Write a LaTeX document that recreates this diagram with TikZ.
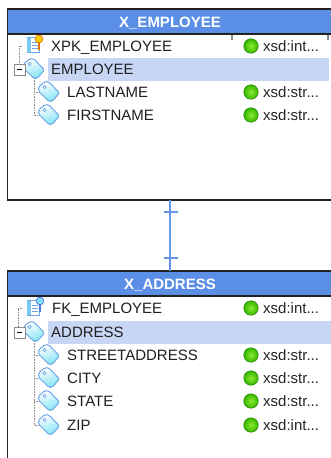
\documentclass[tikz,border=0pt]{standalone}
\usepackage{fontspec}
\setmainfont{Liberation Sans}
\definecolor{headblue}{HTML}{5B8FE6}
\definecolor{band}{HTML}{C6D6F4}
\definecolor{linkblue}{HTML}{6496EE}
\definecolor{edgeblack}{HTML}{222222}
\definecolor{tagblue}{HTML}{6FA8E8}
\definecolor{tagfill}{HTML}{7FE2F4}
\definecolor{treegray}{HTML}{8A8A8A}
\definecolor{ballgreen}{HTML}{35B800}
\definecolor{balllight}{HTML}{8CEB30}
\tikzset{
  x=1pt,y=-1pt,
  tablebox/.style={draw=edgeblack,line width=1.4pt,fill=white,minimum width=325pt,inner sep=0pt,outer sep=0pt},
  headbox/.style={draw=edgeblack,line width=1.4pt,fill=headblue,minimum width=325pt,minimum height=25pt,inner sep=0pt,outer sep=0pt,text=white,text height=12.5pt,text depth=0.7pt,font=\fontsize{15}{15}\selectfont},
  rowtext/.style={anchor=west,inner sep=0pt,text=black!88,text height=10pt,text depth=0pt,font=\fontsize{15}{15}\selectfont},
  typetext/.style={anchor=west,inner sep=0pt,text=black!85,text height=10pt,text depth=0pt,font=\fontsize{15}{15}\selectfont},
  tree/.style={draw=treegray,line width=0.6pt,densely dotted},
  link/.style={draw=linkblue,line width=1.8pt},
  tagicon/.pic={
    \path[draw=tagblue,line width=1pt,rounded corners=1.8pt,line join=round,left color=white,right color=tagfill,shading angle=20]
      (-10.5,-5) -- (-4,-10.5) -- (0,-10) -- (10.5,1) -- (3,9.5) -- (0,9.5) -- (-10.5,-1) -- cycle;
    \path[draw=tagblue,fill=white,line width=0.7pt] (-4.5,-5) circle (1.6);
  },
  docicon/.pic={
    \path[draw=tagblue,fill=white,line width=1pt] (-6.5,-7.5) rectangle (6,7);
    \path[fill=tagfill!60!tagblue] (-6.5,-7.5) rectangle (-2.5,7);
    \foreach \yy in {-3,0,3}{\path[draw=tagblue,line width=0.8pt] (-1.5,\yy) -- (4,\yy);}
  },
  ball/.pic={
    \path[draw=ballgreen!75!black,line width=0.6pt,inner color=balllight,outer color=ballgreen] (0,0) circle (7.2);
  }
}
\begin{document}
\begin{tikzpicture}
\path[use as bounding box,fill=white] (0,0) rectangle (331,458);
\clip (0,0) rectangle (331,458);

% first table
\node[tablebox,minimum height=191pt,anchor=north] (t1) at (170,9) {};
\node[headbox,anchor=north] (h1) at (170,9) {\textbf{X\_EMPLOYEE}};
% second table
\node[tablebox,minimum height=200pt,anchor=north] (t2) at (170,271) {};
\node[headbox,anchor=north] (h2) at (170,271) {\textbf{X\_ADDRESS}};

% relation
\draw[link] (t1.south) -- (h2.north);
\draw[link,line width=1.2pt] (163.5,212) -- (177.5,212);
\draw[link,line width=1.2pt] (163.5,258) -- (177.5,258);

% column sizer ticks
\draw[treegray,line width=2pt] (232,35) -- (232,40);
\draw[treegray,line width=2pt] (328,35) -- (328,40);

% highlight bands
\fill[band] (48,58) rectangle (329,81);
\fill[band] (48,321) rectangle (331,344);

% tree lines table 1
\draw[tree] (22,46) -- (19,46) -- (19,64);
\draw[tree] (34,78) -- (34,115) -- (40,115);
\draw[tree] (34,92) -- (40,92);
% tree lines table 2
\draw[tree] (22,308) -- (18,308) -- (18,327);
\draw[tree] (34,341) -- (34,425) -- (40,425);
\foreach \yy in {355,378,401}{\draw[tree] (34,\yy) -- (40,\yy);}

% table 1 rows
\pic at (33.5,45) {docicon};
\draw[orange!90!black,line width=1.8pt] (39,41) -- (39,50);
\draw[orange!90!black,fill=yellow!70!orange,line width=0.8pt] (39,39) circle (3.8);
\node[rowtext] (r1) at (51,46) {XPK\_EMPLOYEE};
\pic at (34,69) {tagicon};
\draw[treegray,fill=white,line width=0.8pt] (14,64) rectangle (25,75);
\draw[black,line width=0.9pt] (17,69.5) -- (22,69.5);
\node[rowtext] (r2) at (51,69) {EMPLOYEE};
\pic at (49,92) {tagicon};
\node[rowtext] (r3) at (67,92) {LASTNAME};
\pic at (49,115) {tagicon};
\node[rowtext] (r4) at (67,115) {FIRSTNAME};
\pic at (251,46) {ball};
\node[typetext] (y1) at (263,46) {xsd:int...};
\pic at (251,92) {ball};
\node[typetext] (y3) at (263,92) {xsd:str...};
\pic at (251,115) {ball};
\node[typetext] (y4) at (263,115) {xsd:str...};

% table 2 rows
\pic at (33.5,308) {docicon};
\draw[tagblue!70!blue,line width=1.8pt] (40,303) -- (40,312);
\draw[tagblue!70!blue,fill=tagfill,line width=0.8pt] (40,301) circle (3.8);
\node[rowtext] (s1) at (52,308) {FK\_EMPLOYEE};
\pic at (34,332) {tagicon};
\draw[treegray,fill=white,line width=0.8pt] (14,327) rectangle (25,338);
\draw[black,line width=0.9pt] (17,332.5) -- (22,332.5);
\node[rowtext] (s2) at (51,332) {ADDRESS};
\pic at (49,355) {tagicon};
\node[rowtext] (s3) at (67,355) {STREETADDRESS};
\pic at (49,378) {tagicon};
\node[rowtext] (s4) at (67,378) {CITY};
\pic at (49,401) {tagicon};
\node[rowtext] (s5) at (67,401) {STATE};
\pic at (49,425) {tagicon};
\node[rowtext] (s6) at (67,425) {ZIP};
\pic at (251,308) {ball};
\node[typetext] (z1) at (263,308) {xsd:int...};
\pic at (251,355) {ball};
\node[typetext] (z3) at (263,355) {xsd:str...};
\pic at (251,378) {ball};
\node[typetext] (z4) at (263,378) {xsd:str...};
\pic at (251,401) {ball};
\node[typetext] (z5) at (263,401) {xsd:str...};
\pic at (251,425) {ball};
\node[typetext] (z6) at (263,425) {xsd:int...};
\end{tikzpicture}
\end{document}
